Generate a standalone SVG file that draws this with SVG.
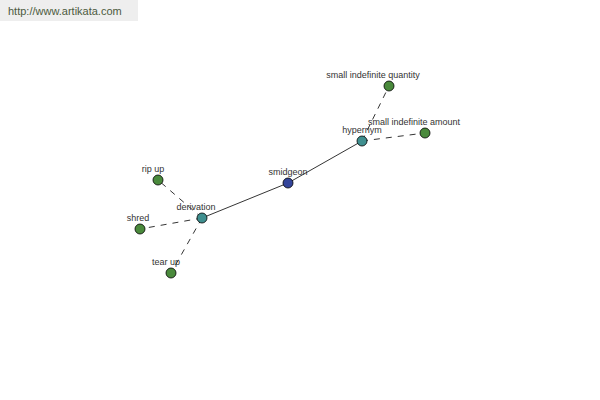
<svg xmlns="http://www.w3.org/2000/svg" width="600" height="400" viewBox="0 0 600 400">
<style>
text{font-family:"Liberation Sans",Arial,sans-serif;font-size:9px;fill:#333;text-anchor:middle}
.solid{stroke:#000;stroke-width:0.8;fill:none}
.dash{stroke:#000;stroke-width:0.8;fill:none;stroke-dasharray:6,6}
.leaf{fill:#4a8a3c;stroke:#000;stroke-width:0.8}
.mid{fill:#3f8f8f;stroke:#000;stroke-width:0.8}
.root{fill:#33449a;stroke:#000;stroke-width:0.8}
</style>
<rect width="600" height="400" fill="#fff"/>
<rect x="0" y="0" width="138" height="21" fill="#eeeeee"/>
<text x="8" y="15" style="text-anchor:start;font-size:11px;fill:#4c5a40">http://www.artikata.com</text>
<g id="connectors">
<line class="solid" x1="288" y1="183" x2="362" y2="141"/>
<line class="solid" x1="288" y1="183" x2="202" y2="218"/>
<line class="dash" x1="362" y1="141" x2="389" y2="86"/>
<line class="dash" x1="362" y1="141" x2="425" y2="133"/>
<line class="dash" x1="202" y1="218" x2="158" y2="180"/>
<line class="dash" x1="202" y1="218" x2="140" y2="229"/>
<line class="dash" x1="202" y1="218" x2="171" y2="273"/>
</g>
<g id="smidgeon"><circle class="root" cx="288" cy="183" r="5"/><text x="288" y="175">smidgeon</text></g>
<g id="hypernym"><circle class="mid" cx="362" cy="141" r="5"/><text x="362" y="133">hypernym</text></g>
<g id="derivation"><circle class="mid" cx="202" cy="218" r="5"/><text x="196" y="210">derivation</text></g>
<g id="small-indefinite-quantity"><circle class="leaf" cx="389" cy="86" r="5"/><text x="373" y="78">small indefinite quantity</text></g>
<g id="small-indefinite-amount"><circle class="leaf" cx="425" cy="133" r="5"/><text x="414" y="125">small indefinite amount</text></g>
<g id="rip-up"><circle class="leaf" cx="158" cy="180" r="5"/><text x="153" y="172">rip up</text></g>
<g id="shred"><circle class="leaf" cx="140" cy="229" r="5"/><text x="138" y="221">shred</text></g>
<g id="tear-up"><circle class="leaf" cx="171" cy="273" r="5"/><text x="166" y="265">tear up</text></g>
</svg>
